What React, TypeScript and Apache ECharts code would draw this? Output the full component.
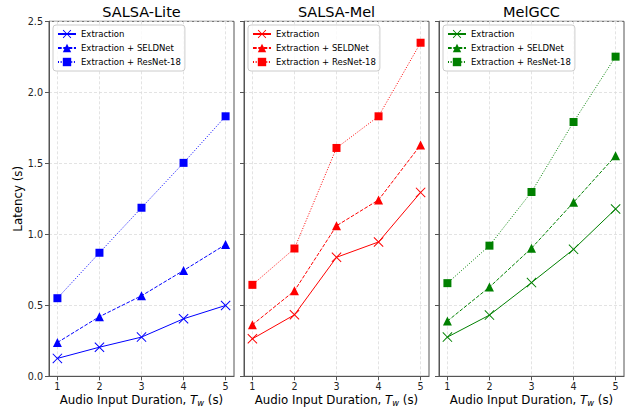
import React, { useEffect, useRef } from "react";
import * as echarts from "echarts";

const X = [1, 2, 3, 4, 5];
const PANEL_TITLES = ["SALSA-Lite", "SALSA-Mel", "MelGCC"];
const SERIES_LABELS = ["Extraction", "Extraction + SELDNet", "Extraction + ResNet-18"];

const salsaLiteExtraction = [0.126, 0.205, 0.276, 0.405, 0.499];
const salsaLiteSeldnet = [0.238, 0.42, 0.567, 0.745, 0.928];
const salsaLiteResnet = [0.55, 0.87, 1.187, 1.503, 1.831];

const salsaMelExtraction = [0.264, 0.433, 0.838, 0.946, 1.295];
const salsaMelSeldnet = [0.363, 0.602, 1.06, 1.242, 1.629];
const salsaMelResnet = [0.644, 0.9, 1.608, 1.831, 2.349];

const melgccExtraction = [0.276, 0.431, 0.66, 0.894, 1.178];
const melgccSeldnet = [0.389, 0.628, 0.902, 1.225, 1.553];
const melgccResnet = [0.656, 0.92, 1.298, 1.791, 2.251];

const PANEL_DATA = [
  [salsaLiteExtraction, salsaLiteSeldnet, salsaLiteResnet],
  [salsaMelExtraction, salsaMelSeldnet, salsaMelResnet],
  [melgccExtraction, melgccSeldnet, melgccResnet],
];
const PANEL_COLORS = ["#0000ff", "#ff0000", "#008000"];

const FONT = "DejaVu Sans";
const X_SYMBOL =
  "path://M0,7 L7,0 L50,43 L93,0 L100,7 L57,50 L100,93 L93,100 L50,57 L7,100 L0,93 L43,50 Z";
const SYMBOLS = [X_SYMBOL, "triangle", "rect"];
const SYMBOL_SIZES = [10, 9, 8];
const LINE_TYPES: any[] = ["solid", [3.7, 1.6], [1, 1.65]];

const GRID_LEFTS = [49, 244, 439];
const GRID_W = 185;
const GRID_TOP = 21.3;
const GRID_H = 355;

export default function App() {
  const ref = useRef<HTMLDivElement>(null);
  useEffect(() => {
    if (!ref.current) return;
    const chart = echarts.init(ref.current, null, { renderer: "svg" });

    const grids = GRID_LEFTS.map((l) => ({
      left: l,
      top: GRID_TOP,
      width: GRID_W,
      height: GRID_H,
      containLabel: false,
      outerBoundsMode: "none",
      show: true,
      borderColor: "#555",
      borderWidth: 1,
      backgroundColor: "transparent",
    }));

    const xAxes = GRID_LEFTS.map((_, i) => ({
      type: "value",
      gridIndex: i,
      min: 0.8,
      max: 5.2,
      name: "Audio Input Duration, {i|T}{s|w} (s)",
      nameLocation: "middle",
      nameGap: 16.5,
      nameMoveOverlap: false,
      nameTextStyle: {
        fontFamily: FONT,
        fontSize: 11.8,
        fontWeight: "normal",
        color: "#000",
        lineHeight: 14,
        rich: {
          i: { fontFamily: FONT, fontSize: 11.8, fontStyle: "italic", color: "#000", lineHeight: 14 },
          s: {
            fontFamily: FONT,
            fontSize: 8.3,
            fontStyle: "italic",
            color: "#000",
            lineHeight: 10,
            verticalAlign: "bottom",
          },
        },
      },
      axisLine: { show: true, onZero: false, lineStyle: { color: "#555", width: 1 } },
      axisTick: { show: true, length: 4, lineStyle: { color: "#555" }, customValues: X },
      axisLabel: {
        show: true,
        margin: 5,
        fontFamily: FONT,
        fontSize: 9.6,
        color: "#222",
        customValues: X,
        formatter: (v: number) => String(v),
      },
      splitLine: { show: true, lineStyle: { color: "#dcdcdc", type: [3, 2], width: 0.8 } },
    }));

    const yAxes = GRID_LEFTS.map((_, i) => ({
      type: "value",
      gridIndex: i,
      min: 0,
      max: 2.5,
      interval: 0.5,
      name: i === 0 ? "Latency (s)" : "",
      nameLocation: "middle",
      nameGap: 24,
      nameTextStyle: { fontFamily: FONT, fontSize: 11.8, color: "#000" },
      axisLine: { show: true, lineStyle: { color: "#555", width: 1 } },
      axisTick: { show: true, length: 4, lineStyle: { color: "#555" } },
      axisLabel: {
        show: i === 0,
        margin: 6,
        fontFamily: FONT,
        fontSize: 9.6,
        color: "#222",
        formatter: (v: number) => v.toFixed(1),
      },
      splitLine: { show: true, lineStyle: { color: "#dcdcdc", type: [3, 2], width: 0.8 } },
    }));

    const series: any[] = [];
    const legends: any[] = [];
    PANEL_TITLES.forEach((title, p) => {
      const names: string[] = [];
      SERIES_LABELS.forEach((label, s) => {
        const name = `${title}::${label}`;
        names.push(name);
        series.push({
          type: "line",
          name,
          xAxisIndex: p,
          yAxisIndex: p,
          data: X.map((x, k) => [x, PANEL_DATA[p][s][k]]),
          symbol: SYMBOLS[s],
          symbolSize: SYMBOL_SIZES[s],
          showAllSymbol: true,
          color: PANEL_COLORS[p],
          itemStyle: { color: PANEL_COLORS[p] },
          lineStyle: { color: PANEL_COLORS[p], width: 1, type: LINE_TYPES[s] },
          z: 3,
        });
      });
      legends.push({
        data: names,
        left: GRID_LEFTS[p] + 4,
        top: 25,
        orient: "vertical",
        itemWidth: 18,
        itemHeight: 10.5,
        itemGap: 5,
        padding: [4.5, 4, 4.5, 4],
        borderColor: "#cccccc",
        borderWidth: 1,
        borderRadius: 3,
        backgroundColor: "rgba(255,255,255,0.8)",
        selectedMode: false,
        textStyle: { fontFamily: FONT, fontSize: 8.5, fontWeight: "normal", color: "#000" },
        formatter: (n: string) => n.split("::")[1],
      });
    });

    const graphics = PANEL_TITLES.map((t, p) => ({
      type: "text",
      x: GRID_LEFTS[p] + GRID_W / 2,
      y: 12,
      style: {
        text: t,
        fontFamily: FONT,
        fontSize: 14.5,
        fontWeight: "normal",
        fill: "#000",
        textAlign: "center",
        textVerticalAlign: "middle",
      },
    }));

    chart.setOption({
      animation: false,
      backgroundColor: "#fff",
      grid: grids,
      xAxis: xAxes,
      yAxis: yAxes,
      legend: legends,
      series,
      graphic: graphics,
    });
    return () => chart.dispose();
  }, []);

  return (
    <div
      ref={ref}
      style={{ position: "fixed", left: 0, top: 0, width: 631, height: 407 }}
    />
  );
}
